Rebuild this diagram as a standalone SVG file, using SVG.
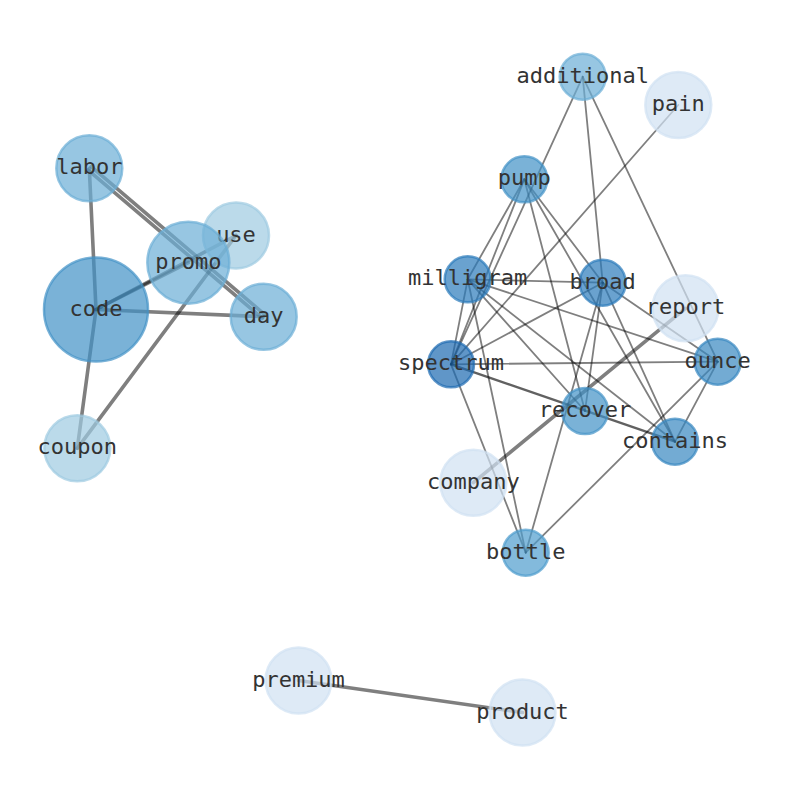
<svg xmlns="http://www.w3.org/2000/svg" width="794" height="790" viewBox="0 0 794 790">
<style>
.e{stroke:#000;stroke-opacity:0.5;stroke-linecap:round;fill:none}
.w{stroke-width:3.6}
.t{stroke-width:1.8}
.d{stroke-width:2.4;stroke-opacity:0.62}
.n{fill-opacity:0.7;stroke-opacity:0.7;stroke-width:2.5}
.l{font-family:"DejaVu Sans Mono","Liberation Mono",monospace;font-size:22px;fill:#333;text-anchor:middle}
</style>
<rect width="794" height="790" fill="#fff"/>
<g id="connectors">
<line class="e w" x1="89.3" y1="168.3" x2="96" y2="309.5"/>
<line class="e w" x1="87.9" y1="169.9" x2="262.3" y2="318.3"/>
<line class="e w" x1="91.2" y1="166.6" x2="265.3" y2="315"/>
<line class="e w" x1="96" y1="309.5" x2="188.3" y2="262.7"/>
<line class="e w" x1="96" y1="309.5" x2="236" y2="235.5"/>
<line class="e w" x1="96" y1="309.5" x2="263.7" y2="316.7"/>
<line class="e w" x1="96" y1="309.5" x2="77.3" y2="448.3"/>
<line class="e w" x1="77.3" y1="448.3" x2="236" y2="235.5"/>
<line class="e t" x1="582.7" y1="76.7" x2="451" y2="364.3"/>
<line class="e t" x1="582.7" y1="76.7" x2="602.7" y2="282.7"/>
<line class="e t" x1="582.7" y1="76.7" x2="717.7" y2="361.7"/>
<line class="e t" x1="678.3" y1="105" x2="451" y2="364.3"/>
<line class="e t" x1="524.3" y1="179.3" x2="467.7" y2="279.3"/>
<line class="e t" x1="524.3" y1="179.3" x2="451" y2="364.3"/>
<line class="e t" x1="524.3" y1="179.3" x2="585" y2="411"/>
<line class="e t" x1="524.3" y1="179.3" x2="675" y2="441.7"/>
<line class="e t" x1="524.3" y1="179.3" x2="602.7" y2="282.7"/>
<line class="e t" x1="467.7" y1="279.3" x2="602.7" y2="282.7"/>
<line class="e t" x1="467.7" y1="279.3" x2="451" y2="364.3"/>
<line class="e t" x1="467.7" y1="279.3" x2="717.7" y2="361.7"/>
<line class="e t" x1="467.7" y1="279.3" x2="675" y2="441.7"/>
<line class="e t" x1="467.7" y1="279.3" x2="585" y2="411"/>
<line class="e t" x1="467.7" y1="279.3" x2="525.7" y2="552.7"/>
<line class="e t" x1="602.7" y1="282.7" x2="451" y2="364.3"/>
<line class="e t" x1="602.7" y1="282.7" x2="585" y2="411"/>
<line class="e t" x1="602.7" y1="282.7" x2="525.7" y2="552.7"/>
<line class="e t" x1="602.7" y1="282.7" x2="675" y2="441.7"/>
<line class="e t" x1="602.7" y1="282.7" x2="717.7" y2="361.7"/>
<line class="e t" x1="451" y1="364.3" x2="717.7" y2="361.7"/>
<line class="e d" x1="451" y1="364.3" x2="675" y2="441.7"/>
<line class="e t" x1="451" y1="364.3" x2="525.7" y2="552.7"/>
<line class="e t" x1="717.7" y1="361.7" x2="675" y2="441.7"/>
<line class="e t" x1="717.7" y1="361.7" x2="525.7" y2="552.7"/>
<line class="e w" x1="473.3" y1="482.7" x2="685.5" y2="308.3"/>
<line class="e w" x1="298.5" y1="680.5" x2="522.5" y2="712.5"/>
</g>
<g id="node-code"><circle class="n" cx="96" cy="309.5" r="52" fill="#4292c6" stroke="#4292c6"/><text class="l" x="96" y="315.5">code</text></g>
<g id="node-labor"><circle class="n" cx="89.3" cy="168.3" r="33" fill="#6baed6" stroke="#6baed6"/><text class="l" x="89.3" y="174.3">labor</text></g>
<g id="node-use"><circle class="n" cx="236" cy="235.5" r="33" fill="#9ecae1" stroke="#9ecae1"/><text class="l" x="236" y="241.5">use</text></g>
<g id="node-promo"><circle class="n" cx="188.3" cy="262.7" r="41" fill="#6baed6" stroke="#6baed6"/><text class="l" x="188.3" y="268.7">promo</text></g>
<g id="node-day"><circle class="n" cx="263.7" cy="316.7" r="33" fill="#6baed6" stroke="#6baed6"/><text class="l" x="263.7" y="322.7">day</text></g>
<g id="node-coupon"><circle class="n" cx="77.3" cy="448.3" r="33" fill="#9ecae1" stroke="#9ecae1"/><text class="l" x="77.3" y="454.3">coupon</text></g>
<g id="node-additional"><circle class="n" cx="582.7" cy="76.7" r="23" fill="#6baed6" stroke="#6baed6"/><text class="l" x="582.7" y="82.7">additional</text></g>
<g id="node-pain"><circle class="n" cx="678.3" cy="105" r="33" fill="#d0e1f2" stroke="#d0e1f2"/><text class="l" x="678.3" y="111">pain</text></g>
<g id="node-pump"><circle class="n" cx="524.3" cy="179.3" r="23" fill="#4292c6" stroke="#4292c6"/><text class="l" x="524.3" y="185.3">pump</text></g>
<g id="node-milligram"><circle class="n" cx="467.7" cy="279.3" r="23" fill="#2b7bba" stroke="#2b7bba"/><text class="l" x="467.7" y="285.3">milligram</text></g>
<g id="node-broad"><circle class="n" cx="602.7" cy="282.7" r="23" fill="#2b7bba" stroke="#2b7bba"/><text class="l" x="602.7" y="288.7">broad</text></g>
<g id="node-report"><circle class="n" cx="685.5" cy="308.3" r="33" fill="#d0e1f2" stroke="#d0e1f2"/><text class="l" x="685.5" y="314.3">report</text></g>
<g id="node-spectrum"><circle class="n" cx="451" cy="364.3" r="23" fill="#1c6ab0" stroke="#1c6ab0"/><text class="l" x="451" y="370.3">spectrum</text></g>
<g id="node-ounce"><circle class="n" cx="717.7" cy="361.7" r="23" fill="#3787c0" stroke="#3787c0"/><text class="l" x="717.7" y="367.7">ounce</text></g>
<g id="node-recover"><circle class="n" cx="585" cy="411" r="23" fill="#4292c6" stroke="#4292c6"/><text class="l" x="585" y="417">recover</text></g>
<g id="node-contains"><circle class="n" cx="675" cy="441.7" r="23" fill="#3787c0" stroke="#3787c0"/><text class="l" x="675" y="447.7">contains</text></g>
<g id="node-company"><circle class="n" cx="473.3" cy="482.7" r="33" fill="#d0e1f2" stroke="#d0e1f2"/><text class="l" x="473.3" y="488.7">company</text></g>
<g id="node-bottle"><circle class="n" cx="525.7" cy="552.7" r="23" fill="#4f9ccd" stroke="#4f9ccd"/><text class="l" x="525.7" y="558.7">bottle</text></g>
<g id="node-premium"><circle class="n" cx="298.5" cy="680.5" r="33" fill="#d0e1f2" stroke="#d0e1f2"/><text class="l" x="298.5" y="686.5">premium</text></g>
<g id="node-product"><circle class="n" cx="522.5" cy="712.5" r="33" fill="#d0e1f2" stroke="#d0e1f2"/><text class="l" x="522.5" y="718.5">product</text></g>
</svg>
